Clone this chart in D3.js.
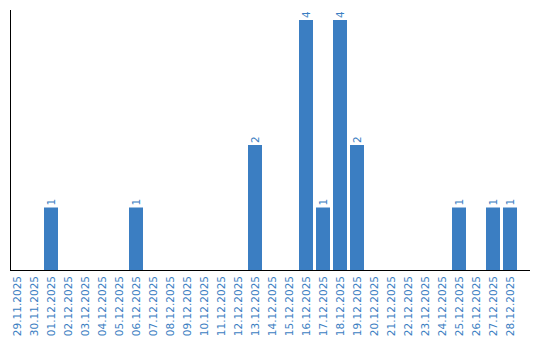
<!DOCTYPE html>
<html>
<head>
<meta charset="utf-8">
<script src="https://cdn.jsdelivr.net/npm/d3@7"></script>
<style>
  body { margin: 0; background: #fff; }
  svg { display: block; font-family: "DejaVu Sans", Verdana, sans-serif; }
</style>
</head>
<body>
<div id="chart"></div>
<script>
const dates = [
  "29.11.2025", "30.11.2025", "01.12.2025", "02.12.2025", "03.12.2025",
  "04.12.2025", "05.12.2025", "06.12.2025", "07.12.2025", "08.12.2025",
  "09.12.2025", "10.12.2025", "11.12.2025", "12.12.2025", "13.12.2025",
  "14.12.2025", "15.12.2025", "16.12.2025", "17.12.2025", "18.12.2025",
  "19.12.2025", "20.12.2025", "21.12.2025", "22.12.2025", "23.12.2025",
  "24.12.2025", "25.12.2025", "26.12.2025", "27.12.2025", "28.12.2025",
];
const counts = [
  0, 0, 1, 0, 0, 0, 0, 1, 0, 0,
  0, 0, 0, 0, 2, 0, 0, 4, 1, 4,
  2, 0, 0, 0, 0, 0, 1, 0, 1, 1,
];

const width = 540, height = 340;
const marginLeft = 10, plotBottom = 270, plotTop = 20;
const barColor = "#3b7ec2";

const data = dates.map((d, i) => ({ date: d, value: counts[i] }));

const x = d3.scaleBand()
  .domain(dates)
  .range([marginLeft, 517])
  .paddingInner(3 / 17)
  .paddingOuter(0);

const y = d3.scaleLinear()
  .domain([0, d3.max(counts)])
  .range([plotBottom, plotTop]);

const svg = d3.select("#chart").append("svg")
  .attr("width", width)
  .attr("height", height);

// bars
svg.append("g")
  .selectAll("rect")
  .data(data.filter((d) => d.value > 0))
  .join("rect")
  .attr("x", (d) => x(d.date))
  .attr("y", (d) => y(d.value))
  .attr("width", x.bandwidth())
  .attr("height", (d) => plotBottom - y(d.value))
  .attr("fill", barColor);

// value labels
svg.append("g")
  .selectAll("text")
  .data(data.filter((d) => d.value > 0))
  .join("text")
  .attr("transform", (d) =>
    `translate(${x(d.date) + x.bandwidth() / 2},${y(d.value) - 2}) rotate(-90)`)
  .attr("dy", "0.35em")
  .attr("text-anchor", "start")
  .attr("font-size", 10.5)
  .attr("fill", barColor)
  .text((d) => d.value);

// x labels
svg.append("g")
  .selectAll("text")
  .data(dates)
  .join("text")
  .attr("transform", (d) =>
    `translate(${x(d) + x.bandwidth() / 2},${plotBottom + 6}) rotate(-90)`)
  .attr("dy", "0.35em")
  .attr("text-anchor", "end")
  .attr("font-size", 10.5)
  .attr("fill", barColor)
  .text((d) => d);

// axis lines
svg.append("line")
  .attr("x1", marginLeft + 0.5).attr("x2", marginLeft + 0.5)
  .attr("y1", 10).attr("y2", plotBottom + 0.5)
  .attr("stroke", "#000");
svg.append("line")
  .attr("x1", marginLeft).attr("x2", 530)
  .attr("y1", plotBottom + 0.5).attr("y2", plotBottom + 0.5)
  .attr("stroke", "#000");
</script>
</body>
</html>
